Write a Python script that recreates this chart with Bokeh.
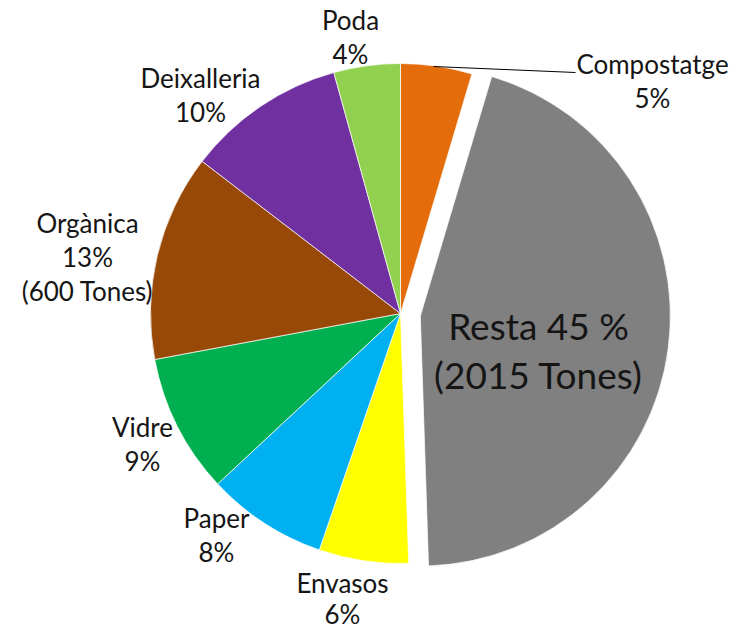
import math
from bokeh.plotting import figure
from bokeh.models import Range1d, ColumnDataSource
from bokeh.core.properties import value
from bokeh.embed import file_html
from bokeh.resources import INLINE

# ---- data (clockwise from 12 o'clock) ----
categories = ["Compostatge", "Resta", "Envasos", "Paper", "Vidre", "Orgànica", "Deixalleria", "Poda"]
tones = [207, 2015, 260, 350, 404, 600, 462, 193]
label_lines = [
    ["Compostatge", "5%"],
    ["Resta 45 %", "(2015 Tones)"],
    ["Envasos", "6%"],
    ["Paper", "8%"],
    ["Vidre", "9%"],
    ["Orgànica", "13%", "(600 Tones)"],
    ["Deixalleria", "10%"],
    ["Poda", "4%"],
]

# ---- styles / layout ----
colors = ["#E46C0A", "#808080", "#FFFF00", "#00B0F0", "#00B050", "#984807", "#7030A0", "#92D050"]
explode_px = [0, 20, 0, 0, 0, 0, 0, 0]
W, H = 739, 630
CX, CY, R = 400, H - 313, 250          # figure pixel space (y up)
# label anchor: centre x and first-line baseline, in screen pixels from top-left
label_anchor = [(652, 73), (538, 338), (342, 592), (216, 527), (142, 436), (87, 232), (200, 87), (350, 29)]
line_gap = [34, 49, 31, 34, 34, 34, 34, 34]
big_label = [False, True, False, False, False, False, False, False]
SMALL_PX, BIG_PX = 26, 37
BASELINE_FIX = 0.35   # text renders ~0.35 em below the requested alphabetic baseline


def fx(X):
    return X


def fy(Y):
    return H - Y


total = float(sum(tones))
starts, ends, xs, ys = [], [], [], []
cum = 0.0
for t, ex in zip(tones, explode_px):
    a1 = cum / total * 2 * math.pi          # clockwise from top
    cum += t
    a2 = cum / total * 2 * math.pi
    am = (a1 + a2) / 2
    xs.append(CX + ex * math.sin(am))
    ys.append(CY + ex * math.cos(am))
    starts.append(math.pi / 2 - a2)
    ends.append(math.pi / 2 - a1)

src = ColumnDataSource(dict(x=xs, y=ys, start=starts, end=ends, color=colors, cat=categories))

p = figure(width=W, height=H, x_range=Range1d(0, W), y_range=Range1d(0, H),
           x_axis_type=None, y_axis_type=None, toolbar_location=None,
           output_backend="svg", min_border=0)
p.outline_line_color = None
p.grid.visible = False
p.background_fill_color = "white"

p.wedge(x="x", y="y", radius=R, start_angle="start", end_angle="end",
        direction="anticlock", fill_color="color", line_color="white",
        line_width=0.7, source=src)

# leader line for Compostatge
p.line(x=[fx(433), fx(575)], y=[fy(66), fy(72)], line_color="black", line_width=1)

small = dict(x=[], y=[], t=[])
big = dict(x=[], y=[], t=[])
for lines, (ax, ay), gap, isbig in zip(label_lines, label_anchor, line_gap, big_label):
    d = big if isbig else small
    fix = BASELINE_FIX * (BIG_PX if isbig else SMALL_PX)
    for i, ln in enumerate(lines):
        d["x"].append(fx(ax))
        d["y"].append(fy(ay + i * gap - fix))
        d["t"].append(ln)

p.text(x="x", y="y", text="t", source=ColumnDataSource(small), text_align="center",
       text_baseline="alphabetic", text_font=value("Lato"), text_font_size=f"{SMALL_PX}px",
       text_color="#151515")
p.text(x="x", y="y", text="t", source=ColumnDataSource(big), text_align="center",
       text_baseline="alphabetic", text_font=value("Lato"), text_font_size=f"{BIG_PX}px",
       text_color="#151515")

open("out.html", "w").write(file_html(p, INLINE))
